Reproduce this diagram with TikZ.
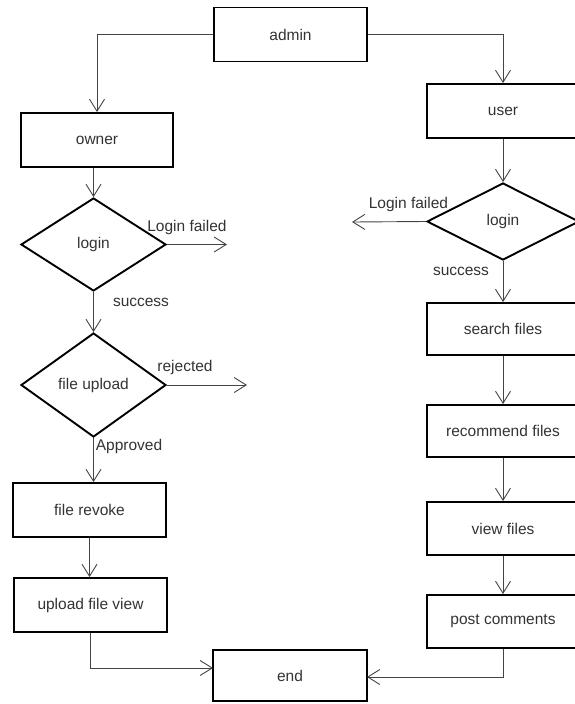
\documentclass[tikz,border=0pt]{standalone}
\usepackage{fontspec}
\setmainfont{Liberation Sans}
\usetikzlibrary{shapes.geometric,arrows.meta}
\definecolor{txt}{HTML}{333333}
\definecolor{ln}{HTML}{444444}
\begin{document}
\begin{tikzpicture}[x=1pt,y=-1pt,
  font=\fontsize{15.5}{17}\selectfont, text=txt,
  box/.style={draw=black,line width=1.9pt,rectangle,inner sep=0pt,minimum width=153pt,minimum height=54pt},
  dia/.style={draw=black,line width=1.9pt,diamond,inner sep=0pt,shape aspect=1.5},
  conn/.style={draw=ln,line width=0.9pt,-{Straight Barb[length=12pt,width=15pt,line width=0.9pt]}},
  plain/.style={draw=ln,line width=0.9pt},
  lbl/.style={inner sep=0pt,text=txt}]
\useasboundingbox (0,0) rectangle (575,704);
\begin{scope}
\clip (0,0) rectangle (575,704);
% left column
\node[box] (admin) at (290.5,34.5) {admin};
\node[box,minimum width=152pt] (owner) at (97,140) {owner};
\node[dia,minimum width=145pt,minimum height=93pt] (loginL) at (93.5,244.5) {login};
\node[dia,minimum width=145pt,minimum height=104pt] (upload) at (93.5,385) {file upload};
\node[box] (revoke) at (89.5,510) {file revoke};
\node[box] (uview) at (90.5,605) {upload file view};
\node[box,minimum width=154pt,minimum height=51pt] (end) at (290,675.5) {end};
% right column
\node[box,minimum width=152pt] (user) at (503,111) {user};
\node[dia,minimum width=152pt,minimum height=77pt] (loginR) at (503,221.5) {login};
\node[box,minimum width=152pt,minimum height=52pt] (search) at (503,329) {search files};
\node[box,minimum width=152pt,minimum height=52pt] (recommend) at (503,431) {recommend files};
\node[box,minimum width=152pt,minimum height=53pt] (view) at (503,528.5) {view files};
\node[box,minimum width=152pt,minimum height=53pt] (post) at (503,621.5) {post comments};

\coordinate (failL) at (227,244.5);
\coordinate (rej) at (247,385);
\coordinate (failR) at (352,222);
\coordinate (endL) at (213,668);
\coordinate (endR) at (367,677);

% connectors
\draw[conn] (admin.west) -| (owner.north);
\draw[conn] (admin.east) -| (user.north);
\draw[conn] (loginL.north |- owner.south) -- (loginL.north);
\draw[conn] (loginL.east) -- (failL);
\draw[conn] (loginL.south) -- (upload.north);
\draw[conn] (upload.east) -- (rej);
\draw[conn] (upload.south) -- (revoke.north -| upload.south);
\draw[conn] (revoke.south) -- (uview.north -| revoke.south);
\draw[conn] (uview.south) |- (endL);
\draw[conn] (post.south) |- (endR);
\draw[conn] (user.south) -- (loginR.north);
\draw[conn] (loginR.west) -- (failR);
\draw[conn] (loginR.south) -- (search.north);
\draw[conn] (search.south) -- (recommend.north);
\draw[conn] (recommend.south) -- (view.north);
\draw[conn] (view.south) -- (post.north);

% labels
\node[lbl] (lf1) at (187,227) {Login failed};
\node[lbl] (sc1) at (141,302) {success};
\node[lbl] (rj) at (185,367) {rejected};
\node[lbl] (ap) at (129,446) {Approved};
\node[lbl] (lf2) at (408.5,204) {Login failed};
\node[lbl] (sc2) at (461,271) {success};
\end{scope}
\end{tikzpicture}
\end{document}
